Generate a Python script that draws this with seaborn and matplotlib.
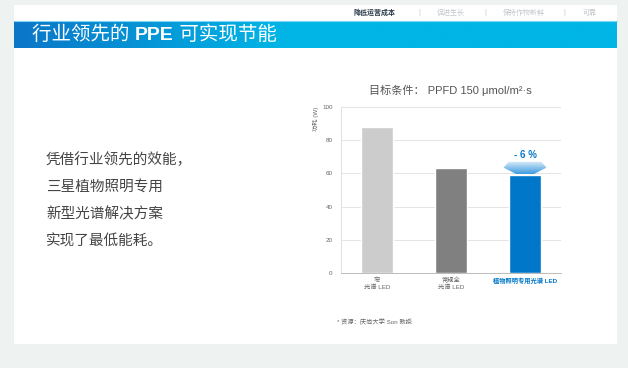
import numpy as np
import seaborn as sns
import matplotlib
import matplotlib.pyplot as plt
from matplotlib.patches import Polygon, Rectangle

matplotlib.use("Agg")

# data
categories = ["窄\n光谱 LED", "常规全\n光谱 LED", "植物照明专用光谱 LED"]
power_w = [88, 63, 59]
bar_colors = ["#cccccc", "#808080", "#0077c8"]
y_ticks = [0, 20, 40, 60, 80, 100]
saving_label = "- 6 %"
chart_title = "目标条件： PPFD 150 μmol/m²·s"
page_title = ["行业领先的 ", "PPE", " 可实现节能"]
nav_items = ["降低运营成本", "促进生长", "保持作物新鲜", "可靠"]
body_lines = ["凭借行业领先的效能，", "三星植物照明专用", "新型光谱解决方案", "实现了最低能耗。"]
source_note = "* 资源：庆尚大学 Son 教授"

sns.set_theme(style="white")
FONTS = ["Liberation Sans", "Noto Sans CJK SC", "DejaVu Sans"]
plt.rcParams["font.family"] = FONTS

W, H = 628, 368
fig = plt.figure(figsize=(W / 100, H / 100), dpi=100)
fig.patch.set_facecolor("#eef2f1")

# page decoration layer in pixel coordinates
bg = fig.add_axes([0, 0, 1, 1])
bg.axis("off")
bg.add_patch(Rectangle((14, 5), 603, 339, facecolor="white", edgecolor="none"))

# header gradient
grad = np.clip(np.linspace(0, 1, 300) / 0.45, 0, 1)[None, :]
cmap = matplotlib.colors.LinearSegmentedColormap.from_list("hdr", ["#0b76c8", "#00b6e6"])
bg.imshow(grad, extent=(14, 617, 48, 21), cmap=cmap, aspect="auto", zorder=1)
bg.plot([14, 617], [21, 21], color="#7fd6f2", lw=0.8, zorder=2)
bg.set_xlim(0, W)
bg.set_ylim(H, 0)

# nav
nav_x = [375, 451, 524, 590]
for i, (label, x) in enumerate(zip(nav_items, nav_x)):
    bg.text(x, 13, label, ha="center", va="center", fontsize=5,
            color="#2a3a4a" if i == 0 else "#c4c8cc",
            fontweight="bold" if i == 0 else "normal")
for x in [419, 485, 564]:
    bg.text(x, 13, "|", ha="center", va="center", fontsize=5, color="#c4c8cc")

# header title, with bold PPE
fig.canvas.draw()
renderer = fig.canvas.get_renderer()
x = 32
for j, part in enumerate(page_title):
    t = bg.text(x, 35, part, ha="left", va="center", fontsize=14, color="white",
                fontweight="bold" if j == 1 else "normal", zorder=3)
    x += t.get_window_extent(renderer).width

# body text
for k, line in enumerate(body_lines):
    bg.text(46, 160 + 27 * k, line, ha="left", va="center", fontsize=10.5, color="#444444")

bg.text(450, 90, chart_title, ha="center", va="center", fontsize=8, color="#555555")
bg.text(337, 322, source_note, ha="left", va="center", fontsize=4.5, color="#666666")

# chart
ax = fig.add_axes([341 / W, (H - 273) / H, 220 / W, 166 / H])
ax.set_facecolor("none")
sns.barplot(x=categories, y=power_w, hue=categories, palette=bar_colors,
            legend=False, width=0.43, saturation=1, ax=ax, zorder=3)
ax.set_yticks(y_ticks)
ax.yaxis.grid(True, color="#e4e4e4", lw=0.7, zorder=0)
ax.set_axisbelow(True)
for s in ["top", "right"]:
    ax.spines[s].set_visible(False)
ax.spines["left"].set_color("#e0e0e0")
ax.spines["left"].set_linewidth(0.7)
ax.spines["bottom"].set_color("#bbbbbb")
ax.spines["bottom"].set_linewidth(0.7)
ax.tick_params(axis="both", length=0, labelsize=4.5, colors="#666666", pad=6)
ax.tick_params(axis="x", pad=3)
ax.set_ylabel("功耗 (W)", fontsize=4.5, color="#666666", loc="top", labelpad=2)
labels = ax.get_xticklabels()
for lbl in labels:
    lbl.set_linespacing(1.3)
labels[-1].set_color("#0077c8")
labels[-1].set_fontweight("bold")

# saving arrow above the highlighted bar
top = power_w[2]
verts = [(2 - 0.22, top + 8), (2 + 0.22, top + 8), (2 + 0.29, top + 4.5),
         (2 + 0.12, top + 0.6), (2 - 0.12, top + 0.6), (2 - 0.29, top + 4.5)]
arrow = Polygon(verts, closed=True, facecolor="none", edgecolor="none", zorder=4)
ax.add_patch(arrow)
acmap = matplotlib.colors.LinearSegmentedColormap.from_list("arr", ["#dcedf9", "#3d9be0"])
img = ax.imshow(np.linspace(0, 1, 100)[:, None], extent=(2 - 0.3, 2 + 0.3, top + 0.6, top + 8),
                cmap=acmap, aspect="auto", zorder=4, origin="upper")
img.set_clip_path(arrow)
ax.set_xlim(-0.486, 2.486)
ax.set_ylim(0, 100)
ax.text(2, top + 12, saving_label, ha="center", va="center", fontsize=7,
        color="#0077c8", fontweight="bold", zorder=5)

fig.savefig("out.png", dpi=100)
